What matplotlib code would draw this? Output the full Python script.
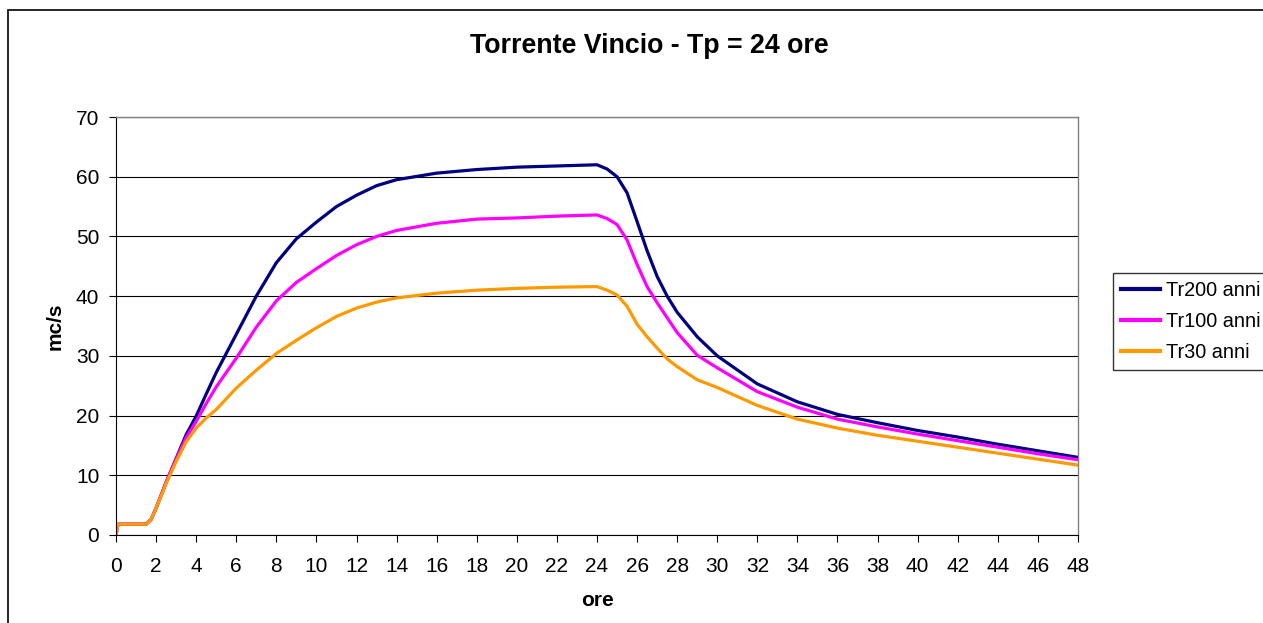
import matplotlib
matplotlib.use("Agg")
import matplotlib.pyplot as plt
from matplotlib.patches import Rectangle

plt.rcParams['font.family'] = ['Liberation Sans', 'DejaVu Sans']

title = "Torrente Vincio - Tp = 24 ore"
x_label = "ore"
y_label = "mc/s"
series_names = ["Tr200 anni", "Tr100 anni", "Tr30 anni"]
series_colors = ["#000080", "#FF00FF", "#FF9900"]

hours = [0, 0.1, 0.5, 1.0, 1.5, 1.75, 2, 2.5, 3, 3.5, 4, 4.5, 5, 6, 7, 8, 9, 10, 11, 12, 13,
         14, 16, 18, 20, 22, 24, 24.5, 25, 25.5, 26, 26.5, 27, 27.5, 28, 29, 30, 32, 34,
         36, 38, 40, 42, 44, 46, 48]

tr200 = [0, 1.8, 1.8, 1.8, 1.8, 2.6, 4.5, 8.8, 12.8, 16.8, 19.9, 23.6, 27.2, 33.6, 40.0,
         45.6, 49.6, 52.4, 55.0, 56.9, 58.5, 59.5, 60.6, 61.2, 61.6, 61.8, 62.0, 61.3, 60.0,
         57.3, 52.5, 47.6, 43.3, 40.0, 37.3, 33.2, 30.0, 25.3, 22.3, 20.2, 18.8, 17.5, 16.4,
         15.2, 14.1, 13.0]

tr100 = [0, 1.8, 1.8, 1.8, 1.8, 2.6, 4.5, 8.8, 12.7, 16.3, 19.0, 22.0, 24.8, 29.6, 34.8,
         39.2, 42.3, 44.6, 46.8, 48.6, 50.0, 51.0, 52.2, 52.9, 53.1, 53.4, 53.6, 53.0, 52.0,
         49.4, 45.3, 41.6, 38.9, 36.4, 33.9, 30.1, 28.0, 24.0, 21.4, 19.4, 18.1, 16.9, 15.8,
         14.7, 13.6, 12.6]

tr30 = [0, 1.8, 1.8, 1.8, 1.8, 2.6, 4.5, 8.6, 12.3, 15.6, 17.9, 19.6, 21.0, 24.6, 27.6,
        30.4, 32.6, 34.7, 36.6, 38.0, 39.0, 39.7, 40.5, 41.0, 41.3, 41.5, 41.6, 41.0, 40.2,
        38.3, 35.3, 33.2, 31.3, 29.5, 28.2, 26.0, 24.7, 21.7, 19.4, 17.9, 16.7, 15.7, 14.7,
        13.7, 12.7, 11.7]

x_ticks = list(range(0, 49, 2))
y_ticks = list(range(0, 71, 10))

W, H = 1263, 623
fig = plt.figure(figsize=(W / 100, H / 100), dpi=100)
ax = fig.add_axes([116 / W, (H - 535) / H, (1078 - 116) / W, (535 - 117) / H])

for vals, name, col in zip([tr200, tr100, tr30], series_names, series_colors):
    ax.plot(hours, vals, color=col, lw=2.3, label=name, solid_joinstyle='round')

ax.set_xlim(0, 48)
ax.set_ylim(0, 70)
ax.set_xticks(x_ticks)
ax.set_yticks(y_ticks)
ax.tick_params(axis='both', direction='out', length=5, width=0.8, colors='black',
               labelsize=15)
ax.tick_params(axis='x', pad=11)
ax.tick_params(axis='y', pad=7)
ax.yaxis.grid(True, color='black', lw=0.8)
ax.set_axisbelow(True)
for s in ['left', 'bottom']:
    ax.spines[s].set_color('black')
    ax.spines[s].set_linewidth(0.8)
for s in ['top', 'right']:
    ax.spines[s].set_color('#808080')
    ax.spines[s].set_linewidth(1.0)

ax.set_xlabel(x_label, fontsize=15, fontweight='bold', va='center')
ax.xaxis.set_label_coords(0.5, (535 - 601) / 418)
ax.set_ylabel(y_label, fontsize=15, fontweight='bold', va='center')
ax.yaxis.set_label_coords((55 - 116) / 962, 0.5)

fig.text(649 / W, 1 - 46 / H, title, ha='center', va='center', fontsize=19.3,
         fontweight='bold')

leg = ax.legend(loc='upper left', bbox_to_anchor=(1113 / W, 1 - 273 / H),
                bbox_transform=fig.transFigure, fontsize=14.3, frameon=True,
                fancybox=False, edgecolor='black', handlelength=2.0,
                handletextpad=0.3, labelspacing=0.62, borderpad=0.38,
                borderaxespad=0)
leg.get_frame().set_linewidth(1.0)
for line in leg.get_lines():
    line.set_linewidth(3)

fig.patches.append(Rectangle((8 / W, -0.1), 1.2, (H - 10) / H + 0.1,
                             transform=fig.transFigure, fill=False,
                             edgecolor='black', lw=1.2))

fig.savefig("out.png", dpi=100)
